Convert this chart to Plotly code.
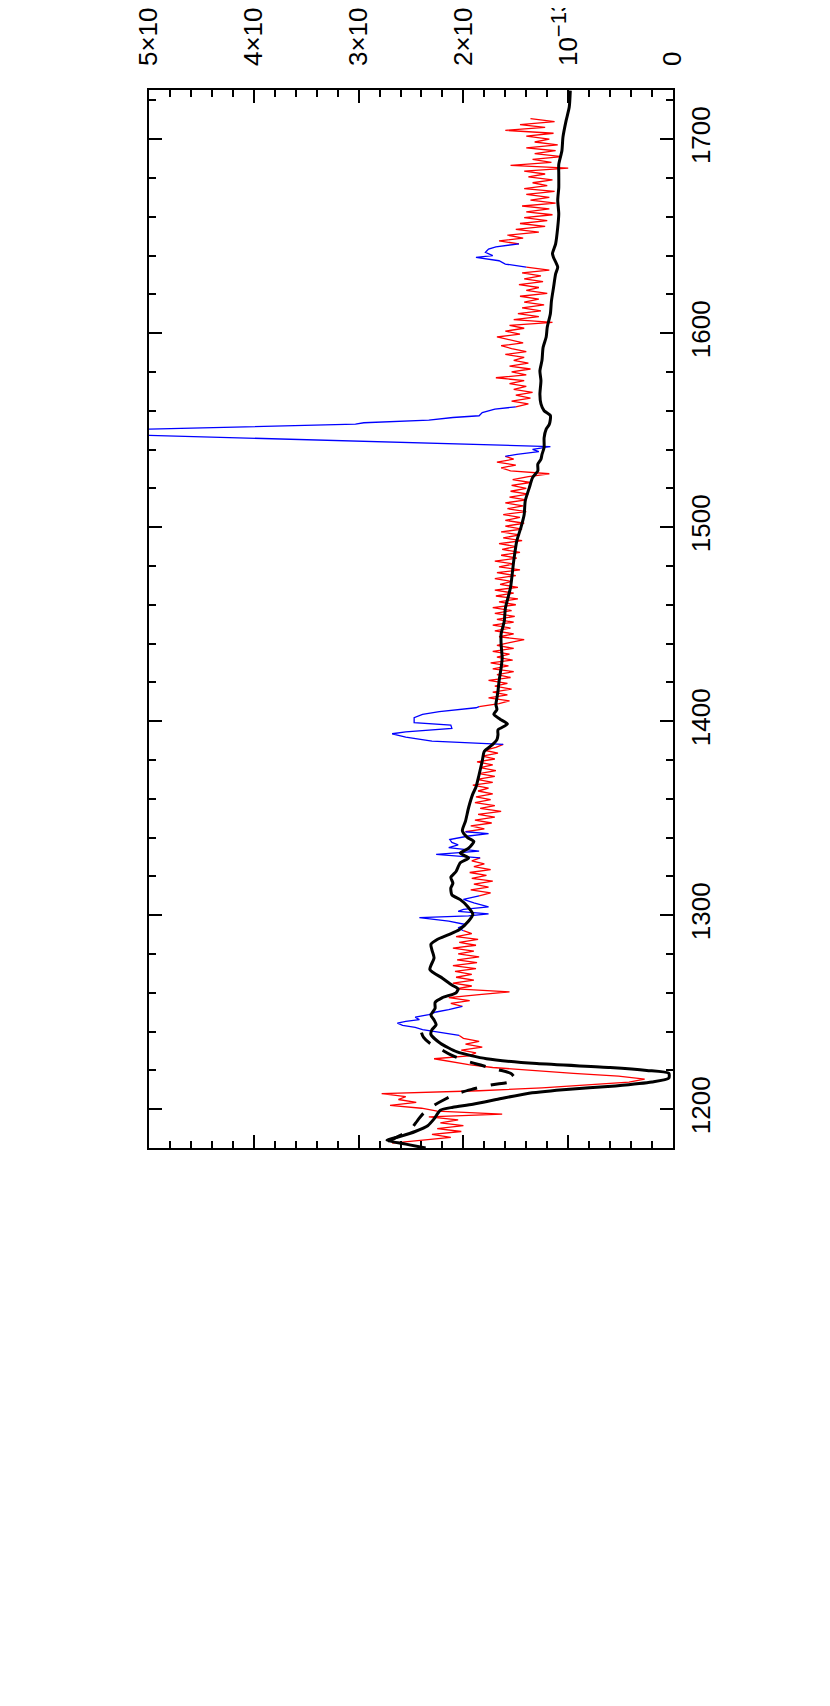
import numpy as np
import plotly.graph_objects as go

# Fluxes are in units of 1e-13, wavelengths in Angstrom

# observed spectrum (red), sampled every 1.5 A, split where the blue line regions sit
red_step = 1.5
red1_start = 1182.5
red1_flux = [2.68, 2.40, 2.12, 2.30, 2.02, 2.25, 2.00, 2.22, 2.05, 2.33,
             1.63, 2.25, 2.40, 2.70, 2.45, 2.62, 2.55, 2.78, 1.85, 1.25,
             0.80, 0.42, 0.27, 0.52, 0.95, 1.38, 1.72, 1.95, 2.10, 2.28,
             1.95, 1.88, 2.02, 1.82, 1.98, 1.85, 2.00, 2.04]
red2_start = 1253.0
red2_flux = [2.01, 2.12, 1.94, 2.14, 1.85, 1.56, 2.07, 1.92, 2.10, 1.90,
             2.07, 1.92, 2.08, 1.88, 2.10, 1.87, 2.06, 1.85, 2.05, 1.90,
             2.10, 1.88, 2.04, 1.86, 2.07, 1.92, 2.00]
red3_start = 1310.0
red3_flux = [1.85, 1.74, 1.93, 1.76, 1.90, 1.72, 1.92, 1.78, 1.94, 1.74,
             1.90, 1.80, 1.92, 1.84]
red4_start = 1343.0
red4_flux = [1.98, 1.80, 1.93, 1.73, 1.89, 1.70, 1.86, 1.64, 1.84, 1.70,
             1.89, 1.74, 1.88, 1.72, 1.86, 1.76, 1.91, 1.72, 1.87, 1.70,
             1.85, 1.69, 1.84, 1.72, 1.87, 1.70, 1.82, 1.67, 1.80, 1.69,
             1.62]
red5_start = 1407.5
red5_flux = [1.85, 1.66, 1.56, 1.76, 1.58, 1.72, 1.54, 1.70, 1.58, 1.76,
             1.55, 1.68, 1.52, 1.72, 1.57, 1.74, 1.53, 1.68, 1.56, 1.72,
             1.52, 1.68, 1.56, 1.42, 1.66, 1.52, 1.70, 1.55, 1.72, 1.52,
             1.68, 1.51, 1.70, 1.54, 1.72, 1.50, 1.66, 1.48, 1.69, 1.52,
             1.70, 1.48, 1.65, 1.54, 1.70, 1.50, 1.68, 1.46, 1.66, 1.52,
             1.70, 1.49, 1.64, 1.46, 1.63, 1.50, 1.66, 1.44, 1.62, 1.46,
             1.64, 1.44, 1.60, 1.42, 1.60, 1.46, 1.62, 1.40, 1.58, 1.43,
             1.60, 1.40, 1.56, 1.38, 1.55, 1.40, 1.54, 1.36, 1.53, 1.38,
             1.18, 1.55, 1.64, 1.50, 1.68, 1.52, 1.60]
red6_start = 1562.0
red6_flux = [1.50, 1.38, 1.54, 1.36, 1.50, 1.34, 1.52, 1.40, 1.56, 1.42,
             1.69, 1.40, 1.54, 1.36, 1.56, 1.38, 1.52, 1.42, 1.60, 1.40,
             1.54, 1.64, 1.43, 1.56, 1.68, 1.46, 1.60, 1.42, 1.56, 1.15,
             1.52, 1.28, 1.48, 1.26, 1.44, 1.23, 1.42, 1.28, 1.46, 1.20,
             1.40, 1.28, 1.47, 1.24, 1.42, 1.26, 1.44, 1.18, 1.40]
red7_start = 1646.0
red7_flux = [1.47, 1.66, 1.43, 1.58, 1.28, 1.50, 1.22, 1.46, 1.20, 1.42,
             1.15, 1.40, 1.18, 1.44, 1.12, 1.36, 1.18, 1.40, 1.13, 1.42,
             1.20, 1.34, 1.15, 1.38, 1.22, 1.42, 1.00, 1.55, 1.16, 1.34,
             1.06, 1.32, 1.12, 1.40, 1.10, 1.32, 1.18, 1.40, 1.14, 1.60,
             1.22, 1.46, 1.13, 1.36]

# emission line regions (blue)
blue1_wave = [1238.0, 1239.5, 1241.0, 1242.2, 1243.2, 1244.4, 1245.3, 1246.2, 1247.4, 1248.7, 1250.1, 1251.3, 1253.0]
blue1_flux = [2.04, 2.20, 2.39, 2.46, 2.58, 2.63, 2.55, 2.42, 2.46, 2.33, 2.26, 2.14, 2.01]
blue2_wave = [1292.0, 1293.5, 1295.2, 1296.9, 1298.7, 1299.6, 1300.7, 1302.0, 1303.0, 1304.3, 1306.4, 1308.1, 1310.0]
blue2_flux = [2.00, 2.05, 1.98, 2.14, 2.42, 1.95, 1.76, 2.05, 2.00, 1.76, 1.90, 2.00, 1.85]
blue3_wave = [1329.5, 1331.3, 1333.0, 1334.8, 1336.2, 1337.5, 1339.0, 1340.8, 1342.0, 1343.0]
blue3_flux = [1.84, 2.26, 1.85, 2.14, 2.05, 2.11, 2.13, 1.95, 1.76, 1.98]
blue4_wave = [1388.0, 1389.7, 1391.8, 1393.5, 1394.5, 1396.3, 1398.0, 1399.2, 1401.8, 1403.5, 1404.9, 1406.9, 1407.5]
blue4_flux = [1.62, 2.30, 2.55, 2.68, 2.55, 2.11, 2.12, 2.47, 2.47, 2.39, 2.23, 1.88, 1.85]
blue5_wave = [1536.5, 1537.5, 1538.9, 1540.1, 1541.5, 1547.0, 1549.0, 1550.5, 1551.7, 1553.1, 1553.8, 1555.2, 1556.5, 1557.4, 1559.0, 1560.8, 1562.0]
blue5_flux = [1.60, 1.49, 1.28, 1.34, 1.17, 4.75, 6.10, 5.00, 4.05, 3.03, 2.95, 2.33, 2.10, 1.85, 1.82, 1.70, 1.50]
blue6_wave = [1634.0, 1635.6, 1637.3, 1639.0, 1639.9, 1641.6, 1643.3, 1644.5, 1646.0]
blue6_flux = [1.40, 1.60, 1.66, 1.88, 1.72, 1.79, 1.76, 1.69, 1.47]

# model continuum (black, solid)
model_wave = [1180.0, 1182.0, 1184.0, 1186.0, 1188.5, 1191.5, 1195.0, 1199.5, 1201.0, 1202.5,
              1205.5, 1208.0, 1210.0, 1212.0, 1214.0, 1216.0, 1218.5, 1220.0, 1221.5, 1223.5,
              1226.0, 1229.5, 1234.0, 1238.5, 1241.0, 1243.5, 1246.0, 1248.5, 1252.0, 1255.0,
              1257.5, 1260.0, 1262.0, 1264.0, 1267.5, 1272.0, 1278.0, 1282.0, 1285.0, 1287.5,
              1290.0, 1292.5, 1297.0, 1300.5, 1304.5, 1308.0, 1310.5, 1314.0, 1316.5, 1319.5,
              1322.5, 1327.0, 1329.5, 1332.0, 1334.5, 1338.0, 1340.0, 1343.5, 1348.5, 1355.5,
              1362.5, 1366.0, 1372.5, 1379.5, 1384.5, 1388.0, 1390.5, 1393.0, 1395.5, 1398.5,
              1401.0, 1403.5, 1406.0, 1408.5, 1412.0, 1415.5, 1420.5, 1427.5, 1432.5, 1439.5,
              1445.0, 1451.5, 1458.0, 1469.0, 1482.5, 1493.0, 1500.0, 1506.5, 1513.5, 1520.5,
              1525.5, 1529.0, 1532.5, 1535.0, 1537.5, 1541.0, 1546.0, 1550.5, 1553.0, 1557.5,
              1560.0, 1563.5, 1568.5, 1575.5, 1580.5, 1586.0, 1592.5, 1598.0, 1603.0, 1610.0,
              1616.5, 1623.5, 1630.5, 1634.0, 1639.0, 1641.0, 1646.0, 1654.5, 1661.5, 1668.5,
              1675.0, 1682.0, 1687.0, 1694.0, 1701.0, 1709.5, 1716.5, 1725.0]
model_flux = [2.36, 2.55, 2.73, 2.60, 2.46, 2.34, 2.28, 2.22, 2.10, 1.91,
              1.64, 1.40, 1.05, 0.55, 0.20, 0.04, 0.04, 0.25, 0.60, 1.30,
              1.78, 2.06, 2.22, 2.31, 2.30, 2.26, 2.28, 2.31, 2.27, 2.27,
              2.20, 2.07, 2.05, 2.11, 2.20, 2.32, 2.28, 2.30, 2.31, 2.25,
              2.14, 2.04, 1.95, 1.91, 1.96, 2.03, 2.11, 2.12, 2.10, 2.12,
              2.07, 2.03, 1.95, 2.03, 1.95, 1.90, 1.96, 2.01, 1.98, 1.95,
              1.91, 1.88, 1.85, 1.82, 1.80, 1.72, 1.68, 1.67, 1.67, 1.58,
              1.65, 1.71, 1.68, 1.69, 1.68, 1.67, 1.66, 1.64, 1.63, 1.64,
              1.64, 1.61, 1.60, 1.55, 1.52, 1.49, 1.45, 1.42, 1.41, 1.37,
              1.34, 1.29, 1.29, 1.26, 1.25, 1.23, 1.23, 1.21, 1.18, 1.17,
              1.23, 1.26, 1.27, 1.26, 1.27, 1.25, 1.24, 1.21, 1.20, 1.17,
              1.16, 1.14, 1.12, 1.10, 1.14, 1.15, 1.12, 1.10, 1.09, 1.10,
              1.09, 1.09, 1.09, 1.06, 1.05, 1.02, 0.99, 0.98]

# shallower Ly-alpha profile (black, dashed)
damped_wave = [1183.5, 1186.0, 1190.0, 1194.0, 1198.0, 1202.0, 1205.0, 1208.0, 1210.5, 1212.5, 1214.0,
               1215.5, 1217.0, 1218.5, 1220.5, 1222.5, 1225.0, 1228.0, 1231.0, 1234.0, 1237.0, 1239.5]
damped_flux = [2.72, 2.62, 2.50, 2.44, 2.38, 2.28, 2.18, 2.06, 1.90, 1.74, 1.56,
               1.50, 1.52, 1.55, 1.68, 1.82, 1.98, 2.12, 2.22, 2.32, 2.38, 2.40]

exp_label = '10<sup><span style="font-size:22px">\u221213</span></sup>'
flux_ticks = [0, 1, 2, 3, 4, 5]
flux_labels = ['0', exp_label, '2\u00d7' + exp_label, '3\u00d7' + exp_label,
               '4\u00d7' + exp_label, '5\u00d7' + exp_label]
wave_range = [1180, 1725.3]

# join the pieces with gaps so each colour is a single trace
red_x, red_y = [], []
for start, flux in [(red1_start, red1_flux), (red2_start, red2_flux), (red3_start, red3_flux),
                    (red4_start, red4_flux), (red5_start, red5_flux), (red6_start, red6_flux),
                    (red7_start, red7_flux)]:
    red_y += list(flux) + [None]
    red_x += list(start + red_step * np.arange(len(flux))) + [None]

blue_x, blue_y = [], []
for w, f in [(blue1_wave, blue1_flux), (blue2_wave, blue2_flux), (blue3_wave, blue3_flux),
             (blue4_wave, blue4_flux), (blue5_wave, blue5_flux), (blue6_wave, blue6_flux)]:
    blue_x += w + [None]
    blue_y += f + [None]

fig = go.Figure()
# plotted sideways: flux runs along x (reversed), wavelength up the y axis
fig.add_trace(go.Scatter(x=red_y, y=red_x, mode='lines', line=dict(color='#ff0000', width=1.3), hoverinfo='skip'))
fig.add_trace(go.Scatter(x=blue_y, y=blue_x, mode='lines', line=dict(color='#0000ff', width=1.3), hoverinfo='skip'))
fig.add_trace(go.Scatter(x=damped_flux, y=damped_wave, mode='lines', line=dict(color='black', width=3, dash='16px,14px', shape='spline'), hoverinfo='skip'))
fig.add_trace(go.Scatter(x=model_flux, y=model_wave, mode='lines', line=dict(color='black', width=3, shape='spline', smoothing=0.6), hoverinfo='skip'))

axis_font = dict(family='Liberation Sans', size=26, color='black')
fig.update_layout(
    width=830, height=1706,
    margin=dict(l=141, r=165, t=82, b=566),
    paper_bgcolor='white', plot_bgcolor='white',
    showlegend=False,
    xaxis=dict(range=[5, 0], side='top', tickmode='array', tickvals=flux_ticks, ticktext=flux_labels,
               tickangle=-90, tickfont=axis_font, ticks='inside', ticklen=13, tickwidth=1.5, tickcolor='black',
               minor=dict(dtick=0.2, tick0=0, ticks='inside', ticklen=7, tickwidth=1.5, tickcolor='black', showgrid=False),
               mirror='allticks', showline=True, linewidth=1.5, linecolor='black',
               showgrid=False, zeroline=False, automargin=False, ticklabelstandoff=17),
    yaxis=dict(range=wave_range, side='right', dtick=100, tick0=0,
               tickangle=-90, tickfont=axis_font, ticks='inside', ticklen=13, tickwidth=1.5, tickcolor='black',
               minor=dict(dtick=20, tick0=0, ticks='inside', ticklen=7, tickwidth=1.5, tickcolor='black', showgrid=False),
               mirror='allticks', showline=True, linewidth=1.5, linecolor='black',
               showgrid=False, zeroline=False, automargin=False, ticklabelstandoff=4),
)

fig.write_html("out.html")
